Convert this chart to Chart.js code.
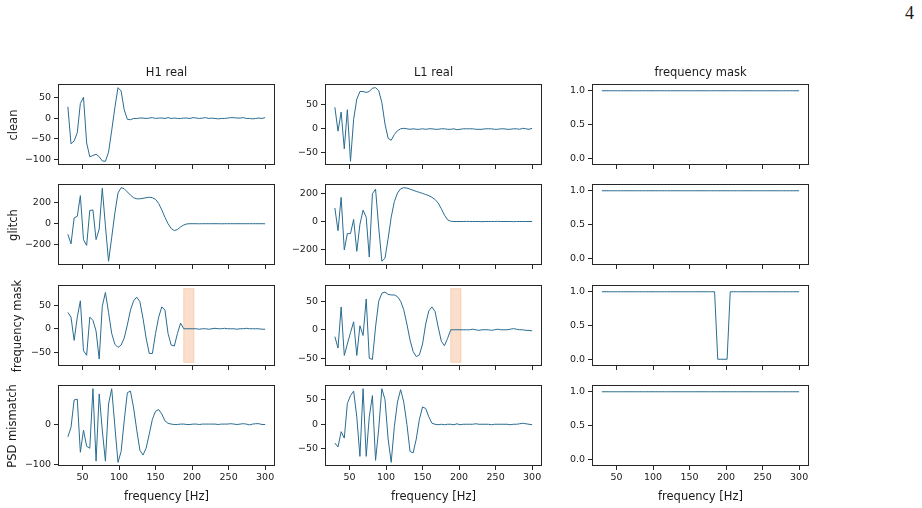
<!DOCTYPE html>
<html>
<head>
<meta charset="utf-8">
<script src="https://cdn.jsdelivr.net/npm/chart.js@4.4.0/dist/chart.umd.min.js"></script>
<style>
  body { margin: 0; background: #fff; width: 922px; height: 508px; position: relative; overflow: hidden;
         font-family: 'DejaVu Sans', sans-serif; color: #1a1a1a; }
  canvas { position: absolute; }
  .t { position: absolute; font-size: 11.5px; white-space: nowrap; transform: translate(-50%, -50%); }
  .r { position: absolute; font-size: 11.5px; white-space: nowrap; transform: translate(-50%, -50%) rotate(-90deg); }
  .pg { position: absolute; left: 905px; top: 3px; font-family: 'Liberation Serif', serif; font-size: 18px; line-height: 1.15; }
</style>
</head>
<body>
<div class="pg">4</div>
<script>
// frequency grid [Hz]
var freq = [30, 34.3, 38.6, 42.9, 47.1, 51.4, 55.7, 60, 64.3, 68.6, 72.9, 77.1, 81.4, 85.7, 90, 94.3,
  98.6, 102.9, 107.1, 111.4, 115.7, 120, 124.3, 128.6, 132.9, 137.1, 141.4, 145.7, 150, 154.3, 158.6, 162.9,
  167.1, 171.4, 175.7, 180, 184.3, 188.6, 192.9, 197.1, 201.4, 205.7, 210, 214.3, 218.6, 222.9, 227.1, 231.4,
  235.7, 240, 244.3, 248.6, 252.9, 257.1, 261.4, 265.7, 270, 274.3, 278.6, 282.9, 287.1, 291.4, 295.7, 300];

var cleanH1 = [27, -62, -55, -35, 35, 50, -60, -93, -90, -87, -93, -103, -104, -82, -30, 25,
  73, 65, 20, -3, -4, -1, -1, 0, 0, -1, 0, 1, -1, 0, 0, -1,
  1, -1, 0, -1, -1, 0, 0, -1, 1, 0, -1, 0, 1, -1, 0, -1,
  -2, -1, -1, 0, 1, 1, 0, 0, 1, -1, -1, -2, -1, 0, -1, 1];
var cleanL1 = [45, -5, 35, -42, 40, -68, 20, 62, 78, 78, 76, 78, 85, 86, 80, 55,
  10, -20, -24, -12, -4, 0, 1, 0, -1, 0, -1, -1, 0, -1, 0, 0,
  -1, -1, 0, 0, -1, -1, 0, -2, -1, 0, 0, 0, 0, -1, -1, -1,
  0, 0, 0, -1, -1, 0, 0, -1, -1, 0, 0, -1, 1, 0, -1, 1];
var glitchH1 = [-100, -190, 55, 70, 265, -150, -205, 125, 130, -150, -50, 335, -20, -355, -130, 100,
  290, 340, 330, 300, 270, 245, 235, 235, 240, 245, 250, 245, 230, 190, 130, 60,
  0, -45, -65, -55, -30, -12, -2, 0, 0, 0, -1, 0, 0, 0, 0, 0,
  0, -1, 0, 0, 0, 0, 0, 0, 0, 0, 0, 0, 0, 0, 0, -1];
var glitchL1 = [95, -65, 170, -200, -85, -85, 15, -210, -20, 80, 30, -250, 195, 228, -40, -280,
  -258, -120, 30, 140, 200, 230, 238, 235, 228, 220, 212, 205, 198, 190, 182, 170,
  155, 130, 90, 45, 12, 2, 0, 0, 0, 0, 1, 0, 0, 0, 0, -1,
  0, 0, 0, 0, 1, 0, 0, 0, 0, -1, 0, 0, 0, 0, 0, 0];
var fmaskH1 = [35, 25, -25, 25, 60, -47, -57, 25, 18, -5, -65, 48, 78, 35, -10, -33,
  -40, -35, -20, 8, 40, 60, 68, 58, 22, -20, -53, -53, -10, 25, 47, 40,
  -10, -35, -37, -10, 12, 0, 0, 0, 0, 0, -1, 0, 0, -1, 0, 1,
  0, 0, 1, 0, 0, 0, -1, 0, 0, 1, 0, 0, 0, 0, -1, -1];
var fmaskL1 = [-12, -32, 40, -45, -25, -5, 14, -45, 7, -10, 54, -50, -52, 5, 50, 64,
  66, 62, 61, 61, 58, 50, 35, 10, -18, -38, -47, -44, -25, 10, 33, 40,
  32, 5, -20, -28, -15, 0, 0, 0, 0, 0, 0, 0, 1, 0, -1, 0,
  0, 0, -1, 0, 1, 0, 0, 0, 1, 2, 1, 0, 0, -1, -1, -2];
var psdH1 = [-32, -8, 60, 62, -70, -15, -55, -60, 88, -92, 75, -15, -92, 50, 88, -5,
  -95, -68, 8, 78, 82, 40, -15, -65, -77, -60, -25, 12, 32, 36, 25, 8,
  2, 0, -1, -1, 0, 0, -1, -1, 0, 0, -1, 0, 0, 0, 0, 0,
  -1, 0, 0, 0, 1, 0, -1, 0, 1, 0, -2, 0, 1, 1, -1, -1];
var psdL1 = [-38, -46, -15, -28, 42, 58, 67, 15, -65, 72, -65, 15, 58, -73, -10, 72,
  50, -30, -77, -5, 45, 70, 45, 0, -55, -58, -30, 10, 35, 32, 15, 2,
  0, -1, 0, -1, 0, 0, -1, 1, -1, 0, 0, 0, 0, 1, 0, 0,
  0, 0, -1, 0, 0, 0, 0, 0, -1, 0, 0, 1, 2, 1, 0, -1];
var maskAll = [1, 1, 1, 1, 1, 1, 1, 1, 1, 1, 1, 1, 1, 1, 1, 1,
  1, 1, 1, 1, 1, 1, 1, 1, 1, 1, 1, 1, 1, 1, 1, 1,
  1, 1, 1, 1, 1, 1, 1, 1, 1, 1, 1, 1, 1, 1, 1, 1,
  1, 1, 1, 1, 1, 1, 1, 1, 1, 1, 1, 1, 1, 1, 1, 1];
var maskNotch = [1, 1, 1, 1, 1, 1, 1, 1, 1, 1, 1, 1, 1, 1, 1, 1,
  1, 1, 1, 1, 1, 1, 1, 1, 1, 1, 1, 1, 1, 1, 1, 1,
  1, 1, 1, 1, 1, 0, 0, 0, 0, 1, 1, 1, 1, 1, 1, 1,
  1, 1, 1, 1, 1, 1, 1, 1, 1, 1, 1, 1, 1, 1, 1, 1];

// masked band (shaded) and its vertical extent per detector
var spanX = [188.6, 202.5];
var spanH1 = [-72, 86];
var spanL1 = [-57, 72];

var xTicks = [50, 100, 150, 200, 250, 300];
var ticksCleanH1 = [-100, -50, 0, 50];
var ticks50 = [-50, 0, 50];
var ticks200 = [-200, 0, 200];
var ticksPsdH1 = [-100, 0];
var ticksMask = [0, 0.5, 1];
var maskRange = [-0.1, 1.1];

var colNames = ['H1 real', 'L1 real', 'frequency mask'];
var rowNames = ['clean', 'glitch', 'frequency mask', 'PSD mismatch'];
var xLabel = 'frequency [Hz]';

// layout
var colLeft = [58, 325, 592], colW = 217;
var rowTop = [84, 184, 285, 385], rowH = 81;
var PL = 46, PR = 16, PT = 14, PB = 20;
var lineColor = '#2a6c91';
var inkColor = '#262626';

Chart.defaults.font.family = "'DejaVu Sans', sans-serif";
Chart.defaults.font.size = 9.5;
Chart.defaults.color = '#1a1a1a';

var framePlugin = {
  id: 'frame',
  afterDraw: function (c) {
    var a = c.chartArea, ctx = c.ctx;
    ctx.save();
    ctx.strokeStyle = inkColor;
    ctx.lineWidth = 1;
    ctx.strokeRect(a.left + 0.5, a.top + 0.5, a.right - a.left - 1, a.bottom - a.top - 1);
    ctx.restore();
  }
};

var spanPlugin = {
  id: 'band',
  beforeDatasetsDraw: function (c, args, o) {
    if (!o || !o.y) return;
    var xs = c.scales.x, ys = c.scales.y, ctx = c.ctx;
    var x0 = xs.getPixelForValue(o.x[0]), x1 = xs.getPixelForValue(o.x[1]);
    var y0 = ys.getPixelForValue(o.y[1]), y1 = ys.getPixelForValue(o.y[0]);
    ctx.save();
    ctx.fillStyle = 'rgba(240,150,90,0.3)';
    ctx.fillRect(x0, y0, x1 - x0, y1 - y0);
    ctx.strokeStyle = 'rgba(240,150,90,0.35)';
    ctx.lineWidth = 1;
    ctx.strokeRect(x0, y0, x1 - x0, y1 - y0);
    ctx.restore();
  }
};

function autoRange(vals, extra) {
  var all = vals.concat(extra || []);
  var lo = Math.min.apply(null, all), hi = Math.max.apply(null, all);
  var pad = 0.05 * (hi - lo);
  return [lo - pad, hi + pad];
}

function fmt(v, dec) {
  var s = dec ? Math.abs(v).toFixed(1) : String(Math.abs(v));
  return (v < 0 ? '\u2212' : '') + s;
}

function panel(r, c, vals, yTicks, yRange, band) {
  var cv = document.createElement('canvas');
  var w = colW + PL + PR, h = rowH + PT + PB;
  cv.width = w; cv.height = h;
  cv.style.width = w + 'px'; cv.style.height = h + 'px';
  cv.style.left = (colLeft[c] - PL) + 'px';
  cv.style.top = (rowTop[r] - PT) + 'px';
  document.body.appendChild(cv);

  var pts = freq.map(function (f, i) { return { x: f, y: vals[i] }; });
  var xr = autoRange(freq);
  var bottom = r === 3;
  var dec = c === 2;
  var plugins = [framePlugin];
  if (band) plugins.push(spanPlugin);

  new Chart(cv, {
    type: 'line',
    data: {
      datasets: [{
        data: pts, borderColor: lineColor, borderWidth: 1, pointRadius: 0, tension: 0, fill: false
      }]
    },
    options: {
      responsive: false,
      animation: false,
      devicePixelRatio: 1,
      layout: { padding: { left: 0, right: PR, top: PT, bottom: 0 } },
      plugins: {
        legend: { display: false },
        tooltip: { enabled: false },
        band: band ? { x: spanX, y: band } : {}
      },
      scales: {
        x: {
          type: 'linear', min: xr[0], max: xr[1],
          afterBuildTicks: function (s) { s.ticks = xTicks.map(function (v) { return { value: v }; }); },
          afterFit: function (s) { s.height = PB; s.paddingLeft = 0; s.paddingRight = 0; },
          ticks: {
            autoSkip: false, maxRotation: 0, padding: 2,
            callback: function (v) { return bottom ? String(v) : ''; }
          },
          grid: { drawOnChartArea: false, tickLength: 4, color: inkColor },
          border: { display: false }
        },
        y: {
          type: 'linear', min: yRange[0], max: yRange[1],
          afterBuildTicks: function (s) { s.ticks = yTicks.map(function (v) { return { value: v }; }); },
          afterFit: function (s) { s.width = PL; s.paddingTop = 0; s.paddingBottom = 0; },
          ticks: {
            autoSkip: false, padding: 3,
            callback: function (v) { return fmt(v, dec); }
          },
          grid: { drawOnChartArea: false, tickLength: 4, color: inkColor },
          border: { display: false }
        }
      }
    },
    plugins: plugins
  });
}

panel(0, 0, cleanH1, ticksCleanH1, autoRange(cleanH1));
panel(0, 1, cleanL1, ticks50, autoRange(cleanL1));
panel(0, 2, maskAll, ticksMask, maskRange);
panel(1, 0, glitchH1, ticks200, autoRange(glitchH1));
panel(1, 1, glitchL1, ticks200, autoRange(glitchL1));
panel(1, 2, maskAll, ticksMask, maskRange);
panel(2, 0, fmaskH1, ticks50, autoRange(fmaskH1, spanH1), spanH1);
panel(2, 1, fmaskL1, ticks50, autoRange(fmaskL1, spanL1), spanL1);
panel(2, 2, maskNotch, ticksMask, maskRange);
panel(3, 0, psdH1, ticksPsdH1, autoRange(psdH1));
panel(3, 1, psdL1, ticks50, autoRange(psdL1));
panel(3, 2, maskAll, ticksMask, maskRange);

// titles, row labels, axis labels
function label(cls, text, x, y) {
  var d = document.createElement('div');
  d.className = cls; d.textContent = text;
  d.style.left = x + 'px'; d.style.top = y + 'px';
  document.body.appendChild(d);
}
var rowLabelX = [13, 12.5, 16.5, 12];
colNames.forEach(function (n, c) { label('t', n, colLeft[c] + colW / 2, 72); });
rowNames.forEach(function (n, r) { label('r', n, rowLabelX[r], rowTop[r] + rowH / 2); });
colNames.forEach(function (n, c) { label('t', xLabel, colLeft[c] + colW / 2, 496); });
</script>
</body>
</html>
